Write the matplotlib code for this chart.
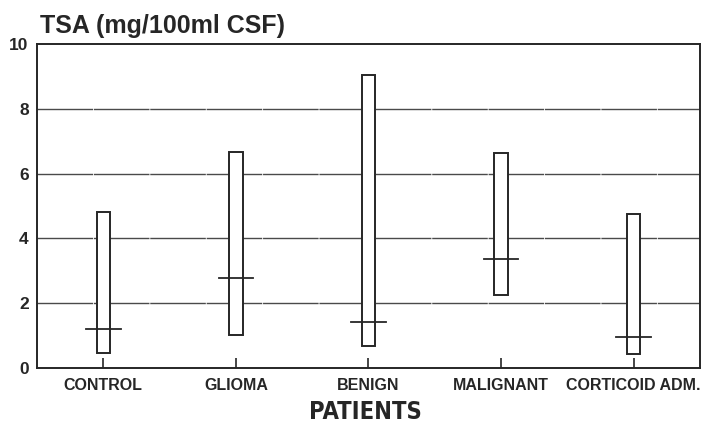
import matplotlib
matplotlib.use("Agg")
import matplotlib.pyplot as plt
from matplotlib.patches import Rectangle

categories = ["CONTROL", "GLIOMA", "BENIGN", "MALIGNANT", "CORTICOID ADM."]
range_low = [0.47, 1.02, 0.68, 2.26, 0.43]
range_high = [4.82, 6.68, 9.04, 6.65, 4.75]
medians = [1.20, 2.77, 1.41, 3.35, 0.95]
yticks = [0, 2, 4, 6, 8, 10]

plt.rcParams['font.family'] = ['Liberation Sans', 'DejaVu Sans']
ink = "#262626"

fig = plt.figure(figsize=(7.06, 4.28), dpi=100)
ax = fig.add_axes([0.0524, 0.1402, 0.939, 0.757])
ax.set_xlim(0.5, 5.5)
ax.set_ylim(0, 10)

for yv in yticks[1:-1]:
    ax.axhline(yv, color="#4a4a4a", lw=1.0, ls=(0, (40, 0.6)), zorder=1)

box_w = 0.10
med_w = 0.26
for i, (lo, hi, md) in enumerate(zip(range_low, range_high, medians)):
    x = i + 1
    ax.add_patch(Rectangle((x - box_w / 2, lo), box_w, hi - lo, facecolor="white",
                           edgecolor=ink, lw=1.4, zorder=3))
    ax.plot([x - med_w / 2, x + med_w / 2], [md, md], color=ink, lw=1.3, zorder=4)

ax.set_xticks(range(1, len(categories) + 1))
ax.set_xticklabels(categories, fontsize=11.5, fontweight="bold", color=ink)
ax.set_yticks(yticks)
ax.set_yticklabels([str(v) for v in yticks], fontsize=12.5, fontweight="bold", color=ink)
ax.tick_params(axis="x", direction="in", length=7, width=1.2, color=ink, pad=7)
ax.tick_params(axis="y", length=0, pad=6)
for s in ax.spines.values():
    s.set_color(ink)
    s.set_linewidth(1.4)

fig.text(0.057, 0.94, "TSA (mg/100ml CSF)", fontsize=18, fontweight="bold", color=ink,
         ha="left", va="center")
fig.text(0.518, 0.038, "PATIENTS", fontsize=17, fontweight="bold", color=ink,
         ha="center", va="center", family="DejaVu Sans", fontstretch="condensed")

fig.savefig("out.png", dpi=100, facecolor="white")
